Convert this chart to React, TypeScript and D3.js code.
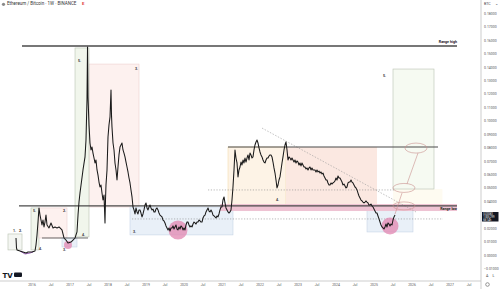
import React from "react";
import * as d3 from "d3";

const W = 500;
const H = 289;

// ETH/BTC weekly closes (decimal year, price in BTC)
const ethBtc: [number, number][] = [
  [2015.579, 0.0131], [2015.592, 0.0057], [2015.605, 0.0042], [2015.684, 0.0034], [2015.763, 0.0027],
  [2015.842, 0.0019], [2015.895, 0.0027], [2016.0, 0.0027], [2016.079, 0.0034], [2016.105, 0.0079],
  [2016.132, 0.0153], [2016.158, 0.025], [2016.184, 0.0355], [2016.211, 0.0302], [2016.263, 0.0228],
  [2016.289, 0.0265], [2016.316, 0.0213], [2016.342, 0.025], [2016.368, 0.0302], [2016.395, 0.0228],
  [2016.447, 0.0206], [2016.5, 0.0243], [2016.553, 0.0206], [2016.605, 0.0213], [2016.658, 0.0206],
  [2016.711, 0.0213], [2016.789, 0.0191], [2016.842, 0.0131], [2016.895, 0.0116], [2016.947, 0.0094],
  [2017.026, 0.0101], [2017.079, 0.0116], [2017.132, 0.0131], [2017.184, 0.0176], [2017.211, 0.0302],
  [2017.237, 0.0399], [2017.263, 0.0466], [2017.342, 0.0638], [2017.395, 0.0735], [2017.421, 0.0861],
  [2017.447, 0.1159], [2017.461, 0.1554], [2017.474, 0.1182], [2017.5, 0.0973], [2017.526, 0.0839],
  [2017.553, 0.0787], [2017.579, 0.0809], [2017.605, 0.0764], [2017.632, 0.0727], [2017.658, 0.069],
  [2017.684, 0.0712], [2017.711, 0.0638], [2017.737, 0.06], [2017.763, 0.0548], [2017.789, 0.0511],
  [2017.816, 0.0526], [2017.842, 0.0466], [2017.868, 0.0414], [2017.895, 0.0451], [2017.921, 0.0243],
  [2017.934, 0.0414], [2017.947, 0.0526], [2017.974, 0.0638], [2018.0, 0.0884], [2018.026, 0.0973],
  [2018.053, 0.1033], [2018.079, 0.1234], [2018.092, 0.1048], [2018.105, 0.0958], [2018.132, 0.0839],
  [2018.158, 0.0787], [2018.184, 0.069], [2018.211, 0.0638], [2018.237, 0.0563], [2018.263, 0.066],
  [2018.289, 0.075], [2018.316, 0.0809], [2018.342, 0.0824], [2018.368, 0.0839], [2018.395, 0.0787],
  [2018.421, 0.0764], [2018.447, 0.0735], [2018.474, 0.0697], [2018.5, 0.066], [2018.526, 0.0623],
  [2018.553, 0.0578], [2018.579, 0.0541], [2018.605, 0.0489], [2018.632, 0.0437], [2018.658, 0.0362],
  [2018.684, 0.034], [2018.711, 0.031], [2018.737, 0.0355], [2018.763, 0.0325], [2018.789, 0.031],
  [2018.816, 0.034], [2018.842, 0.034], [2018.868, 0.0317], [2018.895, 0.0288], [2018.921, 0.031],
  [2018.947, 0.034], [2018.974, 0.0377], [2019.0, 0.0392], [2019.026, 0.0355], [2019.053, 0.034],
  [2019.079, 0.0362], [2019.105, 0.0377], [2019.132, 0.0355], [2019.158, 0.034], [2019.184, 0.0347],
  [2019.211, 0.0325], [2019.237, 0.0325], [2019.263, 0.0347], [2019.289, 0.0355], [2019.316, 0.034],
  [2019.342, 0.0317], [2019.368, 0.0302], [2019.421, 0.0288], [2019.447, 0.0265], [2019.474, 0.0258],
  [2019.5, 0.0243], [2019.526, 0.0221], [2019.553, 0.0206], [2019.579, 0.0191], [2019.605, 0.0206],
  [2019.632, 0.0183], [2019.658, 0.0206], [2019.684, 0.0206], [2019.711, 0.0221], [2019.737, 0.0198],
  [2019.763, 0.0213], [2019.789, 0.0228], [2019.816, 0.0198], [2019.842, 0.0191], [2019.868, 0.0213],
  [2019.895, 0.0198], [2019.921, 0.0221], [2019.947, 0.0213], [2019.974, 0.0191], [2020.0, 0.0206],
  [2020.026, 0.0191], [2020.053, 0.0228], [2020.079, 0.025], [2020.105, 0.025], [2020.132, 0.0228],
  [2020.158, 0.0213], [2020.184, 0.0221], [2020.211, 0.0213], [2020.237, 0.0235], [2020.263, 0.025],
  [2020.289, 0.0243], [2020.316, 0.0235], [2020.342, 0.025], [2020.368, 0.025], [2020.395, 0.0265],
  [2020.421, 0.0258], [2020.447, 0.025], [2020.474, 0.025], [2020.5, 0.028], [2020.526, 0.0295],
  [2020.553, 0.0302], [2020.579, 0.0325], [2020.605, 0.034], [2020.632, 0.0355], [2020.658, 0.0332],
  [2020.684, 0.0325], [2020.711, 0.034], [2020.737, 0.0325], [2020.763, 0.0302], [2020.789, 0.0295],
  [2020.816, 0.0288], [2020.842, 0.028], [2020.868, 0.0295], [2020.895, 0.0288], [2020.921, 0.031],
  [2020.947, 0.034], [2020.974, 0.0362], [2021.0, 0.0362], [2021.026, 0.0414], [2021.053, 0.0437],
  [2021.079, 0.0392], [2021.105, 0.0355], [2021.132, 0.034], [2021.158, 0.0325], [2021.184, 0.0317],
  [2021.211, 0.0325], [2021.237, 0.034], [2021.263, 0.0414], [2021.289, 0.0511], [2021.316, 0.0638],
  [2021.342, 0.0787], [2021.368, 0.0727], [2021.395, 0.069], [2021.421, 0.0586], [2021.447, 0.0638],
  [2021.474, 0.066], [2021.5, 0.0697], [2021.526, 0.0675], [2021.553, 0.0712], [2021.579, 0.069],
  [2021.605, 0.0727], [2021.632, 0.0697], [2021.658, 0.0727], [2021.684, 0.075], [2021.711, 0.0712],
  [2021.737, 0.0764], [2021.763, 0.075], [2021.789, 0.0727], [2021.816, 0.0735], [2021.842, 0.0787],
  [2021.868, 0.0824], [2021.895, 0.0846], [2021.921, 0.0861], [2021.947, 0.0839], [2021.974, 0.0802],
  [2022.0, 0.0772], [2022.026, 0.075], [2022.053, 0.0735], [2022.079, 0.0712], [2022.105, 0.0697],
  [2022.132, 0.069], [2022.158, 0.0712], [2022.184, 0.0727], [2022.211, 0.0727], [2022.237, 0.0742],
  [2022.263, 0.075], [2022.289, 0.075], [2022.316, 0.0735], [2022.342, 0.0697], [2022.368, 0.0653],
  [2022.395, 0.0615], [2022.421, 0.0563], [2022.447, 0.0504], [2022.474, 0.0526], [2022.5, 0.0563],
  [2022.526, 0.0586], [2022.553, 0.0638], [2022.579, 0.069], [2022.605, 0.0735], [2022.632, 0.0787],
  [2022.658, 0.0824], [2022.684, 0.0846], [2022.711, 0.0787], [2022.737, 0.0712], [2022.763, 0.0735],
  [2022.789, 0.0727], [2022.816, 0.0712], [2022.842, 0.0727], [2022.868, 0.0712], [2022.895, 0.0697],
  [2022.921, 0.0712], [2022.947, 0.069], [2022.974, 0.0705], [2023.0, 0.0697], [2023.026, 0.0675],
  [2023.053, 0.069], [2023.079, 0.0668], [2023.105, 0.069], [2023.132, 0.0675], [2023.158, 0.066],
  [2023.184, 0.066], [2023.211, 0.0645], [2023.237, 0.0653], [2023.263, 0.0638], [2023.289, 0.0653],
  [2023.316, 0.066], [2023.342, 0.0638], [2023.368, 0.0653], [2023.395, 0.0638], [2023.421, 0.0638],
  [2023.447, 0.0638], [2023.474, 0.0623], [2023.5, 0.0638], [2023.526, 0.0623], [2023.553, 0.063],
  [2023.579, 0.0615], [2023.605, 0.0623], [2023.632, 0.0608], [2023.658, 0.0615], [2023.684, 0.0593],
  [2023.711, 0.0578], [2023.737, 0.0563], [2023.763, 0.0563], [2023.789, 0.0541], [2023.816, 0.0526],
  [2023.842, 0.0526], [2023.868, 0.0541], [2023.895, 0.0533], [2023.921, 0.0541], [2023.947, 0.0548],
  [2023.974, 0.0556], [2024.0, 0.0578], [2024.026, 0.0563], [2024.053, 0.0593], [2024.079, 0.0578],
  [2024.105, 0.0578], [2024.132, 0.0563], [2024.158, 0.0548], [2024.184, 0.0526], [2024.211, 0.0533],
  [2024.237, 0.0519], [2024.263, 0.0504], [2024.289, 0.0511], [2024.316, 0.0541], [2024.342, 0.0548],
  [2024.368, 0.0548], [2024.395, 0.0563], [2024.421, 0.0548], [2024.447, 0.0541], [2024.474, 0.0526],
  [2024.5, 0.0511], [2024.526, 0.0504], [2024.553, 0.0489], [2024.579, 0.0466], [2024.605, 0.0444],
  [2024.632, 0.0429], [2024.658, 0.0414], [2024.684, 0.0407], [2024.711, 0.0399], [2024.737, 0.0392],
  [2024.763, 0.0399], [2024.789, 0.0407], [2024.816, 0.0399], [2024.842, 0.0392], [2024.868, 0.0377],
  [2024.895, 0.0377], [2024.921, 0.0384], [2024.947, 0.037], [2024.974, 0.0362], [2025.0, 0.0347],
  [2025.026, 0.0332], [2025.053, 0.0317], [2025.079, 0.0317], [2025.105, 0.0295], [2025.132, 0.0273],
  [2025.158, 0.025], [2025.184, 0.0228], [2025.211, 0.0213], [2025.237, 0.0206], [2025.263, 0.0198],
  [2025.289, 0.0213], [2025.316, 0.0235], [2025.342, 0.0213], [2025.368, 0.0243], [2025.395, 0.0235],
  [2025.421, 0.0221], [2025.447, 0.0235], [2025.474, 0.0228], [2025.5, 0.0265], [2025.526, 0.0288],
  [2025.553, 0.0302],
];

const priceTicks = [0.18, 0.17, 0.16, 0.15, 0.14, 0.13, 0.12, 0.11, 0.1, 0.09, 0.08, 0.07, 0.06, 0.05, 0.04, 0.02, 0.01, 0, -0.01];
const timeTicks: [number, string][] = [
  [2016, "2016"], [2016.5, "Jul"], [2017, "2017"], [2017.5, "Jul"], [2018, "2018"], [2018.5, "Jul"],
  [2019, "2019"], [2019.5, "Jul"], [2020, "2020"], [2020.5, "Jul"], [2021, "2021"], [2021.5, "Jul"],
  [2022, "2022"], [2022.5, "Jul"], [2023, "2023"], [2023.5, "Jul"], [2024, "2024"], [2024.5, "Jul"],
  [2025, "2025"], [2025.5, "Jul"], [2026, "2026"], [2026.5, "Jul"], [2027, "2027"], [2027.5, "Jul"],
];
const lastPrice = ["0.03083", "1,005,299", "6d 14h"];

// Annotation drawings (data coordinates)
type Box = { x0: number; x1: number; y0: number; y1: number; fill: string; stroke: string };
const boxes: Box[] = [
  { x0: 2021.158, x1: 2022.684, y0: 0.0809, y1: 0.0377, fill: "#fdf3e6", stroke: "#f3dcb0" },
  { x0: 2022.684, x1: 2025.079, y0: 0.0809, y1: 0.0377, fill: "#fbe8e1", stroke: "none" },
  { x0: 2025.5, x1: 2026.8, y0: 0.0496, y1: 0.0384, fill: "#fefbf1", stroke: "none" },
  { x0: 2017.5, x1: 2018.816, y0: 0.1427, y1: 0.0362, fill: "#fdf1ef", stroke: "#ecd0cf" },
  { x0: 2017.132, x1: 2017.5, y0: 0.1547, y1: 0.0139, fill: "#f1f6ec", stroke: "#b9c2b2" },
  { x0: 2018.579, x1: 2021.289, y0: 0.0362, y1: 0.0154, fill: "#e9f0f8", stroke: "#c7d5e6" },
  { x0: 2024.816, x1: 2026.026, y0: 0.0362, y1: 0.0176, fill: "#e9f0f8", stroke: "#c7d5e6" },
  { x0: 2025.5, x1: 2026.579, y0: 0.139, y1: 0.0496, fill: "#f6faf2", stroke: "#b9c2b2" },
  { x0: 2015.368, x1: 2015.737, y0: 0.0161, y1: 0.0042, fill: "#f4f6f2", stroke: "#b9c2b2" },
  { x0: 2015.974, x1: 2016.184, y0: 0.0355, y1: 0.0042, fill: "#f1f6ec", stroke: "#b9c2b2" },
  { x0: 2016.184, x1: 2016.921, y0: 0.0355, y1: 0.0131, fill: "#fdf1ef", stroke: "#ecd0cf" },
  { x0: 2016.789, x1: 2017.184, y0: 0.0131, y1: 0.0064, fill: "#e9f0f8", stroke: "#c7d5e6" },
];
const pinkBand = { x0: 2020.947, x1: 2027.184, y0: 0.0384, y1: 0.0332 };
const hLines = [
  { v: 0.1562, x0: 2015.737, x1: 2027.184, w: 1.5 },
  { v: 0.037, x0: 2015.658, x1: 2027.184, w: 1.2 },
  { v: 0.0809, x0: 2021.158, x1: 2026.684, w: 1.2 },
  { v: 0.0131, x0: 2016.263, x1: 2017.474, w: 0.8 },
];
const dottedLines = [
  { v: 0.0489, x0: 2020.632, x1: 2025.553 },
  { v: 0.0273, x0: 2018.632, x1: 2026.816 },
];
const trendLine: [number, number][] = [[2022.053, 0.095], [2026.105, 0.0325]];
const circles = [
  { t: 2019.842, v: 0.0191, r: 9.5 },
  { t: 2025.421, v: 0.0221, r: 8.5 },
  { t: 2016.947, v: 0.0079, r: 4 },
];
const ellipses = [
  { t: 2026.105, v: 0.0801, rx: 11, ry: 5 },
  { t: 2025.789, v: 0.0504, rx: 11, ry: 4.5 },
  { t: 2025.789, v: 0.037, rx: 11, ry: 4 },
];
const pathLines: [number, number][][] = [
  [[2025.553, 0.0309], [2025.737, 0.0466]],
  [[2025.868, 0.0534], [2026.158, 0.0764]],
];
const purpleCurve: [number, number][] = [[2015.684, 0.0034], [2015.816, 0.0012], [2015.947, 0.0019], [2016.026, 0.0027]];
const labels: [string, number, number][] = [
  ["1.", 2015.5, 0.0183], ["2.", 2015.658, 0.0183], ["5.", 2016.026, 0.0332], ["2.", 2016.816, 0.0332],
  ["4.", 2017.316, 0.0153], ["4.", 2016.184, 0.0049], ["3.", 2016.816, 0.0042],
  ["5.", 2017.211, 0.145], ["3.", 2018.711, 0.139], ["3.", 2018.658, 0.0176],
  ["4.", 2022.421, 0.0414], ["5.", 2025.237, 0.1338],
];

export default function App() {
  const x = d3.scaleLinear().domain([2016, 2027]).range([32, 450]);
  const y = d3.scaleLinear().domain([-0.01, 0.18]).range([269, 14]);
  const line = d3.line<[number, number]>().x((d) => x(d[0])).y((d) => y(d[1]));
  const font = "Roboto, 'Noto Sans', sans-serif";
  const axisX = 481;
  const axisY = 281;

  return (
    <svg width={W} height={H} style={{ position: "fixed", left: 0, top: 0, background: "#fff" }} fontFamily={font}>
      <rect width={W} height={H} fill="#fff" />
      <defs>
        <clipPath id="plot">
          <rect x={0} y={0} width={axisX} height={axisY} />
        </clipPath>
      </defs>
      <g clipPath="url(#plot)">
        {boxes.map((b, i) => (
          <rect key={i} x={x(b.x0)} y={y(b.y0)} width={x(b.x1) - x(b.x0)} height={y(b.y1) - y(b.y0)}
            fill={b.fill} stroke={b.stroke} strokeWidth={0.6} />
        ))}
        <rect x={x(pinkBand.x0)} y={y(pinkBand.y0)} width={x(pinkBand.x1) - x(pinkBand.x0)}
          height={y(pinkBand.y1) - y(pinkBand.y0)} fill="#eec3d3" />
        {dottedLines.map((l, i) => (
          <line key={i} x1={x(l.x0)} x2={x(l.x1)} y1={y(l.v)} y2={y(l.v)} stroke="#888" strokeWidth={0.6} strokeDasharray="1.2 1.6" />
        ))}
        <line x1={x(trendLine[0][0])} y1={y(trendLine[0][1])} x2={x(trendLine[1][0])} y2={y(trendLine[1][1])}
          stroke="#999" strokeWidth={0.6} strokeDasharray="1.5 1.5" />
        {circles.map((c, i) => (
          <circle key={i} cx={x(c.t)} cy={y(c.v)} r={c.r} fill="#e285b0" fillOpacity={0.75} />
        ))}
        {hLines.map((l, i) => (
          <line key={i} x1={x(l.x0)} x2={x(l.x1)} y1={y(l.v)} y2={y(l.v)} stroke="#4a4a4a" strokeWidth={l.w} />
        ))}
        {ellipses.map((e, i) => (
          <ellipse key={i} cx={x(e.t)} cy={y(e.v)} rx={e.rx} ry={e.ry} fill="none" stroke="#c9908f" strokeWidth={0.6} />
        ))}
        {pathLines.map((p, i) => (
          <path key={i} d={line(p) || ""} fill="none" stroke="#c9908f" strokeWidth={0.6} />
        ))}
        <path d={line(purpleCurve) || ""} fill="none" stroke="#8a4aa8" strokeWidth={0.9} />
        <path d={line(ethBtc) || ""} fill="none" stroke="#1a1a1a" strokeWidth={1.05} strokeLinejoin="round" />
        {labels.map(([s, t, v], i) => (
          <text key={i} x={x(t)} y={y(v)} fontSize={3.6} fontWeight={700} fill="#333" dominantBaseline="middle">{s}</text>
        ))}
        <text x={457} y={y(0.1562) - 2.5} fontSize={3.6} fontWeight={700} fill="#222" textAnchor="end">Range high</text>
        <text x={457} y={y(0.0352) + 0.3} fontSize={3.6} fontWeight={700} fill="#222" textAnchor="end" dominantBaseline="middle">Range low</text>
      </g>

      {/* header */}
      <circle cx={3.5} cy={4.3} r={1.6} fill="#8a8a8a" />
      <text x={7} y={4.3} fontSize={4.5} fill="#333" dominantBaseline="middle">Ethereum / Bitcoin · 1W · BINANCE</text>
      <text x={82} y={4.3} fontSize={4.2} fill="#e03a3a" fontWeight={700} dominantBaseline="middle">E</text>

      {/* price axis */}
      <line x1={axisX} x2={axisX} y1={0} y2={H} stroke="#b8b8b8" strokeWidth={0.7} />
      <text x={484} y={4.3} fontSize={3.6} fill="#444" dominantBaseline="middle">BTC</text>
      <text x={495} y={4.3} fontSize={3.6} fill="#444" dominantBaseline="middle">⌄</text>
      {priceTicks.map((v) => (
        <text key={v} x={484} y={y(v)} fontSize={3.5} fill="#555" dominantBaseline="middle">
          {v < 0 ? "−" + Math.abs(v).toFixed(5) : v.toFixed(5)}
        </text>
      ))}
      <rect x={482} y={212} width={16.5} height={9.5} fill="#131722" />
      {lastPrice.map((s, i) => (
        <text key={i} x={483.2} y={214.5 + i * 2.9} fontSize={2.6} fill="#fff" dominantBaseline="middle">{s}</text>
      ))}
      <text x={486} y={277} fontSize={3.6} fill="#444">A</text>
      <text x={492.5} y={277} fontSize={3.6} fill="#444">L</text>
      <circle cx={487.5} cy={284.5} r={1.8} fill="none" stroke="#555" strokeWidth={0.6} />

      {/* time axis */}
      <line x1={0} x2={axisX} y1={axisY} y2={axisY} stroke="#b8b8b8" strokeWidth={0.7} />
      {timeTicks.map(([t, s]) => (
        <text key={t} x={x(t)} y={285} fontSize={3.4} fill="#555" textAnchor="middle" dominantBaseline="middle">{s}</text>
      ))}

      {/* logo */}
      <text x={2.5} y={277.5} fontSize={7} fontWeight={900} fill="#131722" fontFamily="'DejaVu Sans', sans-serif">TV</text>
      <rect x={14} y={272.5} width={8} height={4.5} rx={1} fill="#131722" />
    </svg>
  );
}
